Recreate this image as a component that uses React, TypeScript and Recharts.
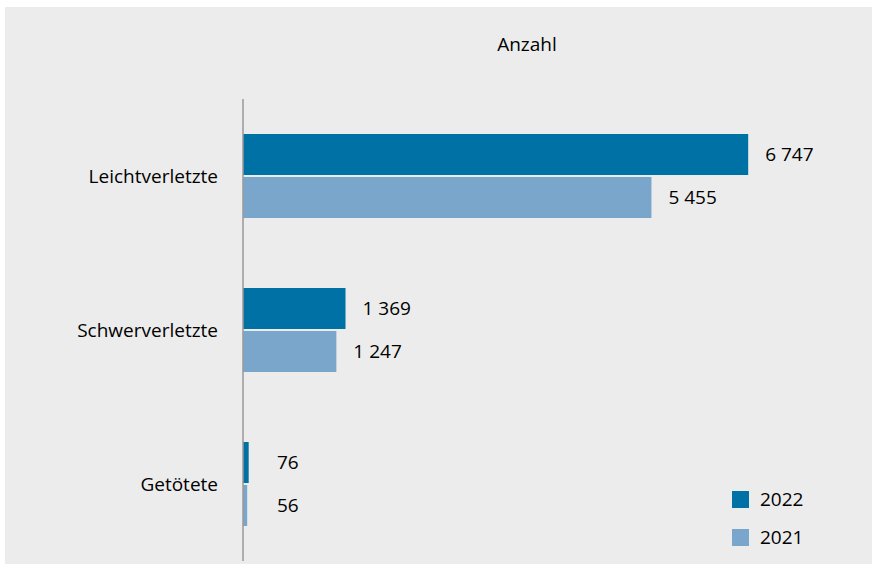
import { BarChart, Bar, XAxis, YAxis, LabelList } from "recharts";

const categories = ["Leichtverletzte", "Schwerverletzte", "Getötete"];
const values2022 = [6747, 1369, 76];
const values2021 = [5455, 1247, 56];
const seriesNames = ["2022", "2021"];

const data = categories.map((name, i) => ({
  name,
  y2022: values2022[i],
  y2021: values2021[i],
}));

const DARK = "#0071a4";
const LIGHT = "#7ba6cb";
const FONT = "'Open Sans', 'Noto Sans', sans-serif";
const FS = 19;

const fmt = (v: number) => String(v).replace(/\B(?=(\d{3})+(?!\d))/g, " ");

// labels sit right of the bar, but never closer to the axis than a minimum
function ValueLabel(props: any) {
  const { x, y, width, height, value } = props;
  const end = Math.max(x + width, x + 17);
  return (
    <text
      x={end + 17}
      y={y + height / 2}
      dy="0.35em"
      fontSize={FS}
      fontFamily={FONT}
      fill="#000"
    >
      {fmt(value)}
    </text>
  );
}

function LegendBox() {
  const colors = [DARK, LIGHT];
  return (
    <div
      style={{
        position: "absolute",
        left: 727,
        top: 473,
        fontFamily: FONT,
        fontSize: FS,
        color: "#000",
      }}
    >
      {seriesNames.map((label, i) => (
        <div key={label} style={{ display: "flex", alignItems: "center", height: 38 }}>
          <span style={{ width: 17, height: 17, background: colors[i], marginRight: 11 }} />
          {label}
        </div>
      ))}
    </div>
  );
}

export default function App() {
  return (
    <div style={{ position: "absolute", left: 0, top: 0, width: 872, height: 564, background: "#fff" }}>
      <div style={{ position: "absolute", left: 5, top: 7, width: 867, height: 557, background: "#ececec" }}>
        <div
          style={{
            position: "absolute",
            left: 0,
            top: 24,
            width: 1044,
            textAlign: "center",
            fontFamily: FONT,
            fontSize: FS,
            color: "#000",
          }}
        >
          Anzahl
        </div>
        <BarChart
          width={867}
          height={557}
          data={data}
          layout="vertical"
          margin={{ top: 92, right: 30, left: 38, bottom: 3 }}
          barCategoryGap={35}
          barGap={2}
        >
          <XAxis type="number" hide domain={[0, 8000]} />
          <YAxis
            type="category"
            dataKey="name"
            width={200}
            tickLine={false}
            tickMargin={19}
            axisLine={{ stroke: "#999", strokeWidth: 1.5 }}
            tick={{ fontSize: FS, fontFamily: FONT, fill: "#000" }}
          />
          <Bar dataKey="y2022" name="2022" fill={DARK} isAnimationActive={false}>
            <LabelList dataKey="y2022" content={<ValueLabel />} />
          </Bar>
          <Bar dataKey="y2021" name="2021" fill={LIGHT} isAnimationActive={false}>
            <LabelList dataKey="y2021" content={<ValueLabel />} />
          </Bar>
        </BarChart>
        <LegendBox />
      </div>
    </div>
  );
}
